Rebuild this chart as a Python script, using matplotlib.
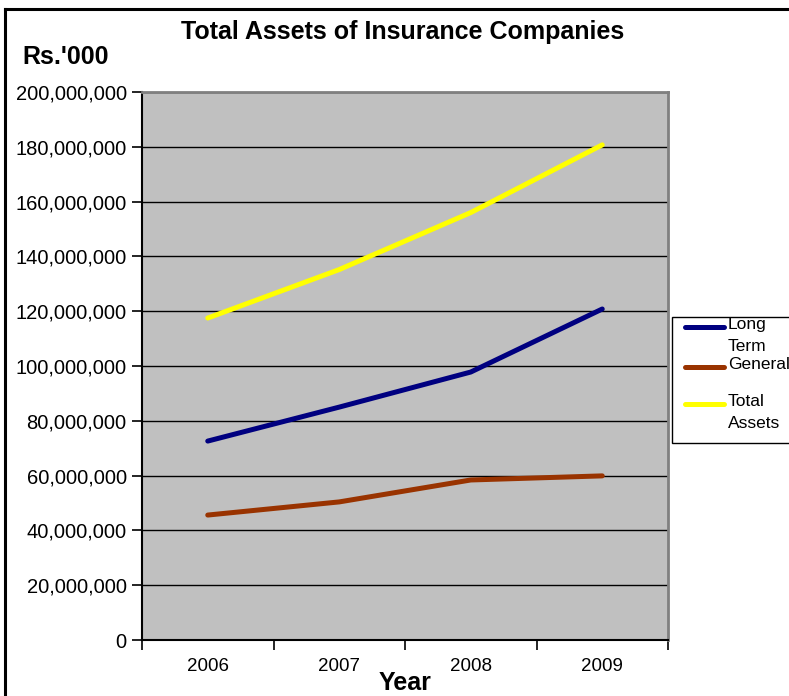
import matplotlib
matplotlib.use("Agg")
import matplotlib.pyplot as plt
from matplotlib.lines import Line2D
from matplotlib.patches import Rectangle
from matplotlib.ticker import FuncFormatter, FixedLocator

plt.rcParams['font.family'] = ['Liberation Sans', 'DejaVu Sans']

years = ["2006", "2007", "2008", "2009"]
long_term = [72.6e6, 85.0e6, 97.8e6, 120.8e6]
general = [45.6e6, 50.4e6, 58.4e6, 59.9e6]
total_assets = [117.5e6, 135.2e6, 156.0e6, 180.7e6]

series_names = ["Long\nTerm", "General", "Total\nAssets"]
series_values = [long_term, general, total_assets]
series_colors = ["#000080", "#993300", "#FFFF00"]

W, H = 789, 696
fig = plt.figure(figsize=(W / 100, H / 100), dpi=100)
fig.patch.set_facecolor("white")

ax = fig.add_axes([142 / W, 1 - 640 / H, (668 - 142) / W, (640 - 92) / H])
ax.set_facecolor("#C0C0C0")

x = [i + 0.5 for i in range(len(years))]
for vals, col in zip(series_values, series_colors):
    ax.plot(x, vals, color=col, lw=3.6, solid_capstyle="round", zorder=3)

ax.set_xlim(0, len(years))
ax.set_ylim(0, 200e6)
ax.yaxis.set_major_locator(FixedLocator([i * 20e6 for i in range(11)]))
ax.yaxis.set_major_formatter(FuncFormatter(lambda v, p: f"{int(round(v)):,}"))
ax.grid(axis="y", color="black", lw=1.0, zorder=1)

ax.xaxis.set_major_locator(FixedLocator(range(len(years) + 1)))
ax.set_xticklabels([])
ax.set_xticks(x, minor=True)
ax.set_xticklabels(years, minor=True)
ax.tick_params(axis="x", which="minor", length=0, pad=13, labelsize=13.5)
ax.tick_params(axis="x", which="major", length=7, width=1.2, direction="out")
ax.tick_params(axis="y", length=7, width=1.2, direction="out", pad=4, labelsize=14.5)

for s in ["left", "bottom"]:
    ax.spines[s].set_color("black")
    ax.spines[s].set_linewidth(1.5)
for s in ["top", "right"]:
    ax.spines[s].set_color("#808080")
    ax.spines[s].set_linewidth(2.0)

fig.text(403 / W, 1 - 32 / H, "Total Assets of Insurance Companies",
         ha="center", va="center", fontsize=18, fontweight="bold")
fig.text(22 / W, 1 - 57 / H, "Rs.'000", ha="left", va="center",
         fontsize=18, fontweight="bold")
fig.text(405 / W, 1 - 683 / H, "Year", ha="center", va="center",
         fontsize=18, fontweight="bold")

# legend box drawn by hand so each line sits beside the first text row
fig.patches.append(Rectangle((672 / W, 1 - 443 / H), (790 - 672) / W, (443 - 317) / H,
                             transform=fig.transFigure, facecolor="white",
                             edgecolor="black", lw=1.0, zorder=5))
legend_rows = [327, 367, 404]
for name, col, yy in zip(series_names, series_colors, legend_rows):
    fig.lines.append(Line2D([685 / W, 724 / W], [1 - yy / H, 1 - yy / H],
                            transform=fig.transFigure, color=col, lw=3.6,
                            solid_capstyle="round", zorder=6))
    fig.text(728 / W, 1 - (yy - 10) / H, name, ha="left", va="top",
             fontsize=12.5, linespacing=1.6, zorder=7)

# outer frame along the left and top edges
fig.lines.append(Line2D([5 / W, 5 / W], [0, 1 - 9 / H], transform=fig.transFigure,
                        color="black", lw=2.2))
fig.lines.append(Line2D([5 / W, 1], [1 - 9 / H, 1 - 9 / H], transform=fig.transFigure,
                        color="black", lw=2.2))

fig.savefig("out.png", dpi=100)
